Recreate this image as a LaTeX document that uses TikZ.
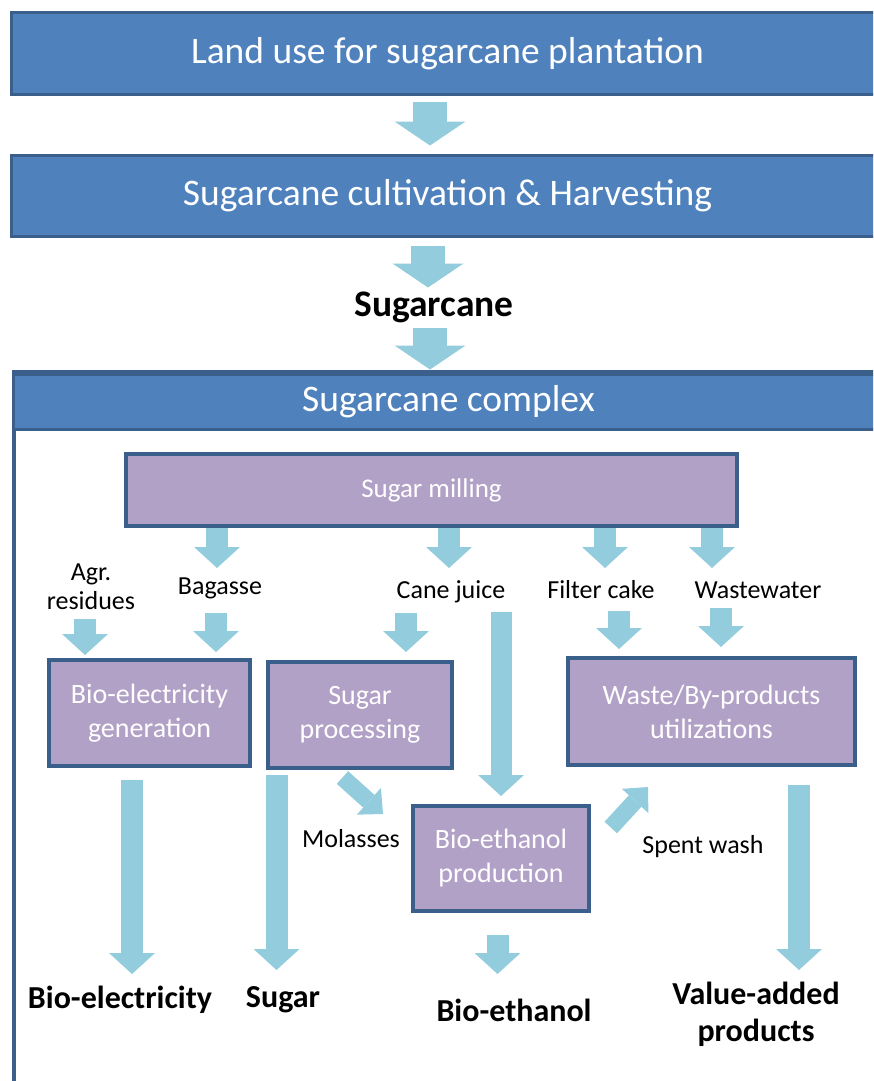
\documentclass[tikz,border=0pt]{standalone}
\usepackage{fontspec}
\setmainfont{Carlito}
\usetikzlibrary{arrows.meta,positioning}

\definecolor{boxblue}{HTML}{4F81BD}
\definecolor{boxedge}{HTML}{3A5F8B}
\definecolor{procfill}{HTML}{B2A1C7}
\definecolor{arrowblue}{HTML}{93CDDD}

\tikzset{
  titlebox/.style={draw=boxedge, line width=3pt, fill=boxblue, text=white,
    font=\fontsize{37.5}{42}\selectfont, minimum width=873pt, inner sep=0pt},
  procbox/.style={draw=boxedge, line width=4pt, fill=procfill, text=white,
    font=\fontsize{28}{34}\selectfont, align=center, inner sep=0pt},
  flowlabel/.style={font=\fontsize{26}{29}\selectfont, align=center, inner sep=0pt},
  product/.style={font=\bfseries\fontsize{32}{37}\selectfont, align=center, inner sep=0pt},
  flow/.style={draw=arrowblue, line width=22pt,
    -{Triangle[width=46pt,length=21pt,line width=0pt]}},
  bigflow/.style={draw=arrowblue, line width=34pt,
    -{Triangle[width=71pt,length=24pt,line width=0pt]}},
  slant/.style={draw=arrowblue, line width=17pt,
    -{Triangle[width=36pt,length=19pt,line width=0pt]}}
}

\begin{document}
\begin{tikzpicture}[x=1pt, y=-1pt]
    \useasboundingbox (0,0) rectangle (873,1081);
    \clip (0,0) rectangle (873,1081);

    % chain above the complex
    \node[titlebox, minimum height=82pt] (land) at (447.5,53.5) {Land use for sugarcane plantation};
    \node[titlebox, minimum height=81pt] (cultiv) at (447.5,196) {Sugarcane cultivation \& Harvesting};
    \node[font=\bfseries\fontsize{37.5}{42}\selectfont, inner sep=0pt] (cane) at (434,307) {Sugarcane};

    \draw[bigflow, shorten <=5.5pt, shorten >=8.5pt] (land.south -| 430,0) -- (cultiv.north -| 430,0);
    \draw[bigflow, shorten <=7.5pt] (cultiv.south -| 428,0) -- ++(0,49.5);

    % sugarcane complex frame
    \draw[boxedge, line width=3.5pt] (14,372) rectangle (884,1100);
    \node[titlebox, minimum width=871pt, minimum height=55pt] (complex) at (448.5,402) {Sugarcane complex};
    \draw[bigflow, shorten >=3.5pt] (complex.north -| 430,0) ++(0,-45.5) -- (complex.north -| 430,0);

    % processes
    \node[procbox, minimum width=611pt, minimum height=72pt, font=\fontsize{27}{32}\selectfont] (milling) at (431.5,490) {Sugar milling};
    \node[procbox, minimum width=201pt, minimum height=106pt] (bioel) at (149.5,713) {Bio-electricity\\generation};
    \node[procbox, minimum width=184pt, minimum height=106pt] (sugproc) at (360,715) {Sugar\\processing};
    \node[procbox, minimum width=287pt, minimum height=107pt] (waste) at (711.5,711.5) {Waste/By-products\\utilizations};
    \node[procbox, minimum width=176pt, minimum height=105pt] (ethprod) at (501,858.5) {Bio-ethanol\\production};

    % streams
    \node[flowlabel] (agr) at (91,587) {Agr.\\residues};
    \node[flowlabel] (bagasse) at (220,588) {Bagasse};
    \node[flowlabel] (juice) at (451,592) {Cane juice};
    \node[flowlabel] (filter) at (601,590) {Filter cake};
    \node[flowlabel] (wastewater) at (758,590) {Wastewater};
    \node[flowlabel] (molasses) at (351,839) {Molasses};
    \node[flowlabel] (spent) at (703,847) {Spent wash};

    % products
    \node[product] (elout) at (120,1000) {Bio-electricity};
    \node[product] (sugout) at (283,1000) {Sugar};
    \node[product] (ethout) at (514,1010) {Bio-ethanol};
    \node[product] (valout) at (756,1014) {Value-added\\products};

    % milling outputs
    \draw[flow] (milling.south -| 217,0) -- ++(0,40);
    \draw[flow] (milling.south -| 449,0) -- ++(0,40);
    \draw[flow] (milling.south -| 605,0) -- ++(0,40);
    \draw[flow] (milling.south -| 712,0) -- ++(0,40);

    % feeds into the processes
    \draw[flow, shorten >=3pt] (bioel.north -| 85,0) ++(0,-39) -- (bioel.north -| 85,0);
    \draw[flow, shorten >=6pt] (bioel.north -| 216,0) ++(0,-45) -- (bioel.north -| 216,0);
    \draw[flow, shorten >=8pt] (sugproc.north -| 406,0) ++(0,-47) -- (sugproc.north -| 406,0);
    \draw[flow, line width=21pt, shorten >=8pt] (ethprod.north -| 501,0) ++(0,-192) -- (ethprod.north -| 501,0);
    \draw[flow, shorten >=7pt] (waste.north -| 619,0) ++(0,-45) -- (waste.north -| 619,0);
    \draw[flow, shorten >=9pt] (waste.north -| 721,0) ++(0,-48) -- (waste.north -| 721,0);

    % side streams
    \draw[slant] (sugproc.south -| 342.5,0) ++(0,7.5) -- ++(40.5,36.5);
    \draw[slant] (ethprod.east |- 0,827.5) ++(19.8,0) -- ++(37.2,-40.5);

    % to the products
    \draw[flow, shorten <=12pt] (bioel.south -| 132,0) -- ++(0,206);
    \draw[flow, shorten <=5pt] (sugproc.south -| 276.5,0) -- ++(0,200);
    \draw[flow, shorten <=22pt] (ethprod.south -| 497.5,0) -- ++(0,61);
    \draw[flow, shorten <=18pt] (waste.south -| 799,0) -- ++(0,203);
\end{tikzpicture}
\end{document}
